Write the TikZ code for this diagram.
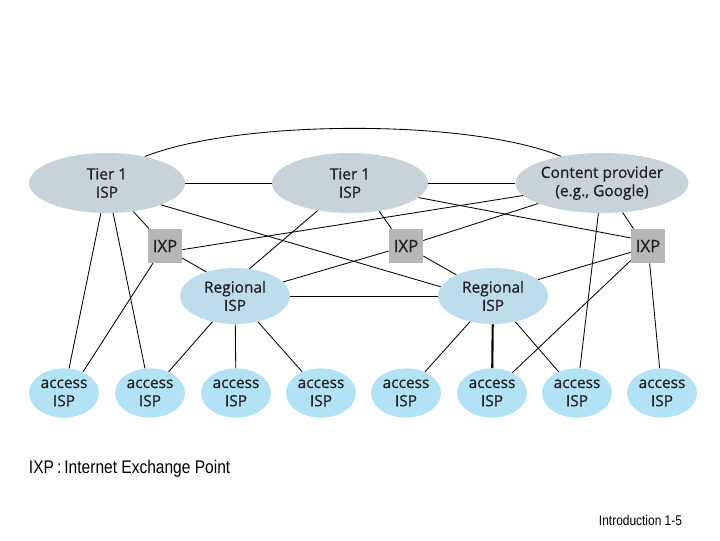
\documentclass[tikz,border=0pt]{standalone}
\usepackage{fontspec}
\setmainfont{Open Sans}
\newfontfamily\ispfont[FakeBold=0.6]{Open Sans}
\newfontfamily\notefont[FakeStretch=0.85]{Liberation Sans}
\usetikzlibrary{shapes.geometric}
\definecolor{tiergray}{RGB}{200,210,217}
\definecolor{regionblue}{RGB}{190,221,236}
\definecolor{accessblue}{RGB}{178,226,246}
\definecolor{ixpgray}{RGB}{183,183,183}
\definecolor{labelink}{RGB}{35,31,32}

\begin{document}
\begin{tikzpicture}[
  x=0.025cm,
  y=-0.025cm,
  isp/.style={
    ellipse,
    inner sep=0pt,
    align=center,
    text=labelink,
    font=\ispfont\fontsize{11}{13}\selectfont
  },
  tier/.style={
    isp,
    fill=tiergray,
    minimum width=3.9cm,
    minimum height=1.5cm
  },
  regional/.style={
    isp,
    fill=regionblue,
    minimum width=2.75cm,
    minimum height=1.4cm
  },
  access/.style={
    isp,
    fill=accessblue,
    minimum width=1.75cm,
    minimum height=1.23cm,
    font=\ispfont\fontsize{11}{13}\selectfont
  },
  ixp/.style={
    rectangle,
    fill=ixpgray,
    minimum size=0.85cm,
    inner sep=0pt,
    text=labelink,
    font=\ispfont\fontsize{12}{13}\selectfont
  },
  link/.style={line width=0.6pt},
  trunk/.style={line width=1.5pt}
]
\useasboundingbox (0,0) rectangle (720,540);

\node[tier] (tierA) at (107,183) {Tier 1\\ISP};
\node[tier] (tierB) at (350,183) {Tier 1\\ISP};
\node[tier, minimum width=3.95cm] (content) at (602,183) {Content provider\\(e.g., Google)};
\node[ixp] (ixpA) at (165,246) {IXP};
\node[ixp] (ixpB) at (406,246) {IXP};
\node[ixp] (ixpC) at (648,246) {IXP};
\node[regional] (regA) at (235,296) {Regional\\ISP};
\node[regional] (regB) at (493,296) {Regional\\ISP};
\node[access] (acc1) at (64,393) {access\\ISP};
\node[access] (acc2) at (150,393) {access\\ISP};
\node[access] (acc3) at (236,393) {access\\ISP};
\node[access] (acc4) at (321,393) {access\\ISP};
\node[access] (acc5) at (406,393) {access\\ISP};
\node[access] (acc6) at (492,393) {access\\ISP};
\node[access] (acc7) at (577,393) {access\\ISP};
\node[access] (acc8) at (662,393) {access\\ISP};
\node[anchor=west, font=\notefont\fontsize{13}{15}\selectfont] (legend) at (24,469) {IXP\,:\,Internet Exchange Point};
\node[anchor=west, font=\notefont\fontsize{10}{12}\selectfont] (slideno) at (594,520) {Introduction 1-5};

\draw[link] (tierA.35) .. controls (240,119) and (470,119) .. (content.147);
\draw[link] (tierA) -- (tierB);
\draw[link] (tierB) -- (content);
\draw[link] (tierA) -- (ixpA);
\draw[link] (tierA.-22) -- (regB.170);
\draw[link] (tierA) -- (acc1);
\draw[link] (tierA) -- (acc2);
\draw[link] (ixpA.-12) -- (content);
\draw[link] (ixpA.-35) -- (regA.140);
\draw[link] (ixpA.-125) -- (acc1.48);
\draw[link] (tierB) -- (regA.62);
\draw[link] (tierB.-44) -- (ixpB.130);
\draw[link] (tierB.-12) -- (ixpC.155);
\draw[link] (regA) -- (ixpB);
\draw[link] (ixpB) -- (content);
\draw[link] (ixpB.-30) -- (regB.150);
\draw[link] (content.-55) -- (ixpC.130);
\draw[link] (content) -- (acc7);
\draw[link] (ixpC.200) -- (regB.20);
\draw[link] (ixpC.-140) -- (acc6.45);
\draw[link] (ixpC) -- (acc8);
\draw[link] (regA) -- (regB);
\draw[link] (regA) -- (acc2);
\draw[link] (regA) -- (acc3);
\draw[link] (regA) -- (acc4);
\draw[link] (regB) -- (acc5);
\draw[trunk] (regB) -- (acc6);
\draw[link] (regB) -- (acc7);
\end{tikzpicture}
\end{document}
